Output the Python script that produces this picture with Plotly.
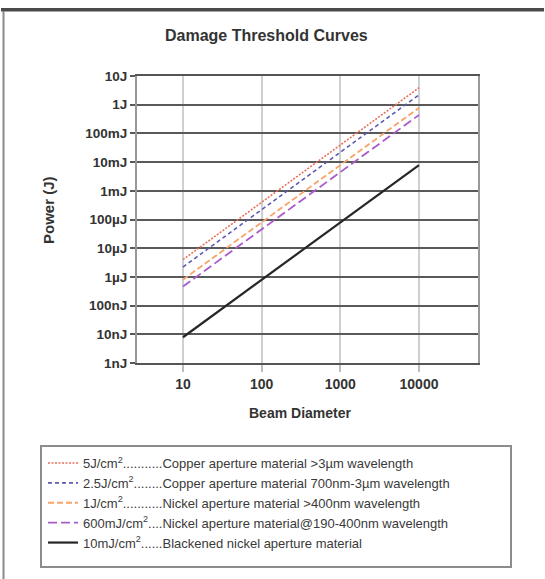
import plotly.graph_objects as go

# ---- data ----
beam_diameter = [10, 10000]
copper_5J = [4.0e-6, 3.9]
copper_2p5J = [2.2e-6, 2.2]
nickel_1J = [8.0e-7, 0.78]
nickel_600mJ = [4.6e-7, 0.44]
blackened_10mJ = [7.9e-9, 7.9e-3]

series_names = [
    "5J/cm<sup>2</sup>...........Copper aperture material >3µm wavelength",
    "2.5J/cm<sup>2</sup>........Copper aperture material 700nm-3µm wavelength",
    "1J/cm<sup>2</sup>...........Nickel aperture material >400nm wavelength",
    "600mJ/cm<sup>2</sup>....Nickel aperture material@190-400nm wavelength",
    "10mJ/cm<sup>2</sup>......Blackened nickel aperture material",
]
series_values = [copper_5J, copper_2p5J, nickel_1J, nickel_600mJ, blackened_10mJ]
series_colors = ["#e8705a", "#5a5ab4", "#f8a468", "#a85ccc", "#262626"]
series_dash = ["2px,1.5px", "4px,3px", "6px,3px", "9px,4px", "solid"]
series_width = [1.6, 1.6, 1.8, 1.8, 2.2]

y_tickvals = [1e-9, 1e-8, 1e-7, 1e-6, 1e-5, 1e-4, 1e-3, 1e-2, 1e-1, 1, 10]
y_ticktext = ["1nJ", "10nJ", "100nJ", "1µJ", "10µJ", "100µJ", "1mJ", "10mJ", "100mJ", "1J", "10J"]
x_tickvals = [10, 100, 1000, 10000]
x_ticktext = ["10", "100", "1000", "10000"]

W, H = 545, 579
L, R, T, B = 137, 478, 76, 363


def px(x):
    return (x - L) / (R - L)


def py(y):
    return (B - y) / (B - T)


fig = go.Figure()
for name, vals, col, dash, w in zip(series_names, series_values, series_colors, series_dash, series_width):
    fig.add_trace(go.Scatter(
        x=beam_diameter, y=vals, mode="lines", name=name,
        line=dict(color=col, dash=dash, width=w),
    ))

FONT = "Liberation Sans, Arial, sans-serif"

fig.update_layout(
    width=W, height=H,
    margin=dict(l=L, r=W - R, t=T, b=H - B, pad=0),
    paper_bgcolor="white", plot_bgcolor="white",
    font=dict(family=FONT, color="#333333"),
    showlegend=True,
    legend=dict(
        x=px(43), y=py(448), xanchor="left", yanchor="top",
        bgcolor="rgba(0,0,0,0)", borderwidth=0,
        font=dict(family=FONT, size=13, color="#3a3a3a"),
        traceorder="normal",
    ),
    xaxis=dict(
        type="log", range=[0.416, 4.75],
        tickvals=x_tickvals, ticktext=x_ticktext,
        showgrid=True, gridcolor="#cfcfcf", gridwidth=2,
        ticks="outside", ticklen=7, tickcolor="#bdbdbd", tickwidth=2,
        showline=True, mirror=True, linecolor="#555555", linewidth=2,
        tickfont=dict(family=FONT, size=14, color="#333333", weight="bold"),
        zeroline=False, fixedrange=True,
    ),
    yaxis=dict(
        type="log", range=[-9, 1],
        tickvals=y_tickvals, ticktext=y_ticktext,
        showgrid=True, gridcolor="#595959", gridwidth=2,
        ticks="outside", ticklen=5, tickcolor="#595959", tickwidth=2,
        showline=True, mirror=True, linecolor="#999999", linewidth=2,
        tickfont=dict(family=FONT, size=13.5, color="#333333", weight="bold"),
        zeroline=False, fixedrange=True,
    ),
    annotations=[
        dict(text="Damage Threshold Curves", xref="paper", yref="paper",
             x=px(266), y=py(35), xanchor="center", yanchor="middle", showarrow=False,
             font=dict(family=FONT, size=16, color="#333333", weight="bold")),
        dict(text="Power (J)", xref="paper", yref="paper",
             x=px(48), y=py(210), xanchor="center", yanchor="middle", showarrow=False,
             textangle=-90,
             font=dict(family=FONT, size=15, color="#333333", weight="bold")),
        dict(text="Beam Diameter", xref="paper", yref="paper",
             x=px(300), y=py(413), xanchor="center", yanchor="middle", showarrow=False,
             font=dict(family=FONT, size=14, color="#333333", weight="bold")),
        # top frame band drawn as an annotation box
        dict(text=" ", xref="paper", yref="paper", x=px(272.5), y=py(9.75),
             xanchor="center", yanchor="middle", showarrow=False,
             width=541, height=1, borderpad=0, bgcolor="#4a4a4a",
             bordercolor="#4a4a4a", borderwidth=1, font=dict(size=1)),
    ],
    shapes=[
        # outer frame: top band and left edge
        dict(type="line", xref="paper", yref="paper", x0=px(1), x1=px(544), y0=py(9.75), y1=py(9.75),
             line=dict(color="#4a4a4a", width=3.5), layer="above"),
        dict(type="rect", xref="paper", yref="paper", x0=px(2.5), x1=px(4.5), y0=py(11), y1=py(H),
             line=dict(width=0), fillcolor="#8a8a8a", layer="above"),
        # legend box
        dict(type="rect", xref="paper", yref="paper", x0=px(41), x1=px(511), y0=py(446), y1=py(567),
             line=dict(color="#8c8c8c", width=2), fillcolor="rgba(0,0,0,0)"),
    ],
)

fig.write_html(
    "out.html",
    config={"displayModeBar": False},
    post_script="document.body.style.margin='0';document.body.style.padding='0';",
)
